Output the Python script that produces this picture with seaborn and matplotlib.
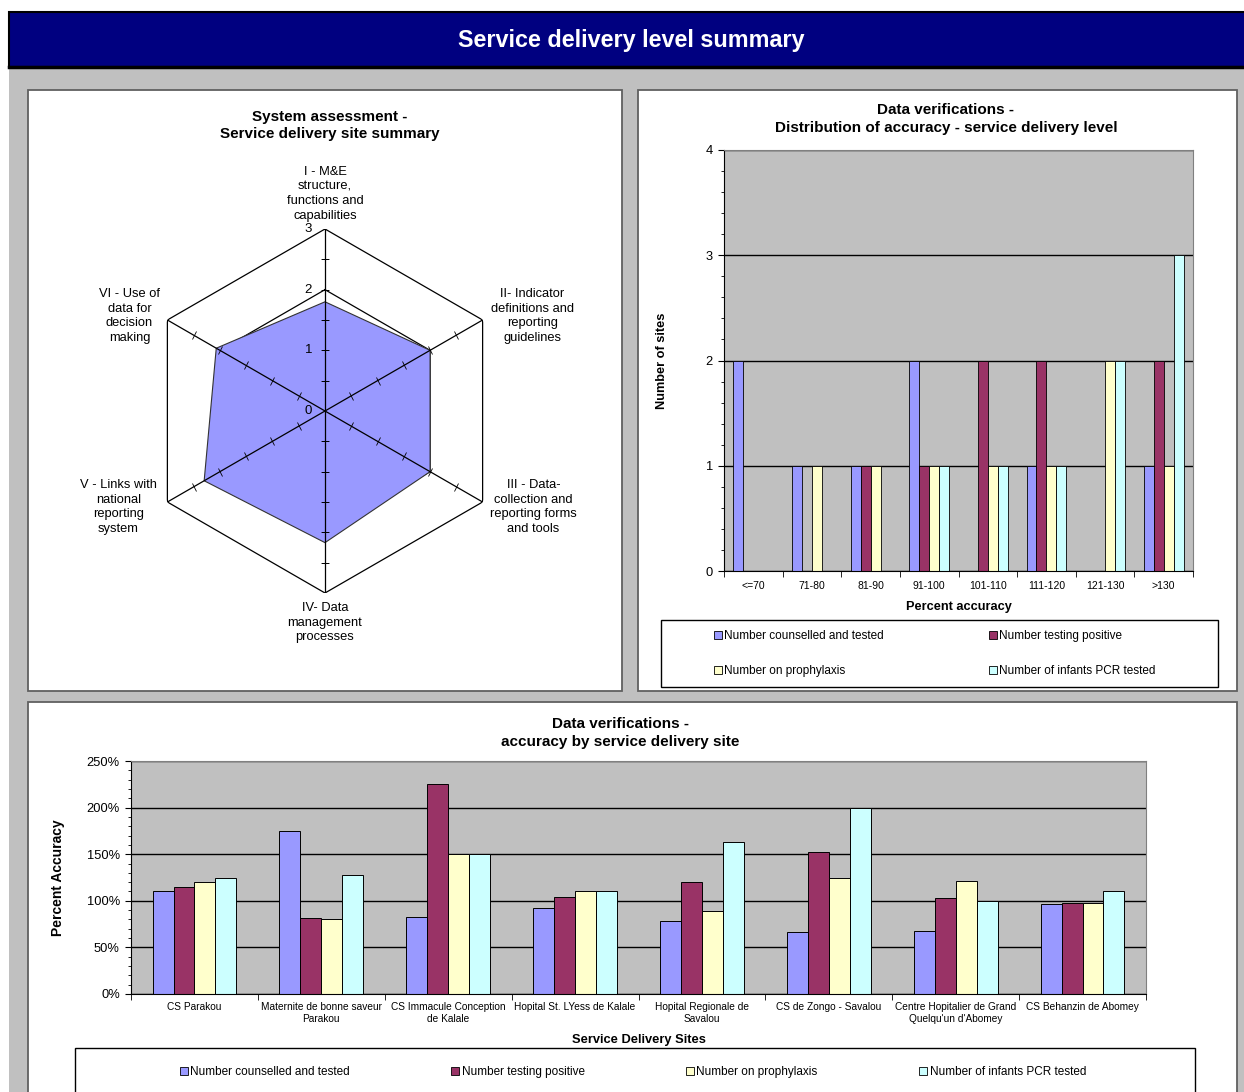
import numpy as np
import pandas as pd
import matplotlib
matplotlib.use('Agg')
import matplotlib.pyplot as plt
import matplotlib.ticker as mticker
from matplotlib.patches import Rectangle, Patch
from matplotlib.markers import MarkerStyle
from matplotlib.transforms import Affine2D
import seaborn as sns

plt.rcParams['font.family'] = ['Liberation Sans', 'DejaVu Sans']

W, H = 1244, 1092

# system assessment (radar)
components = ['I - M&E\nstructure,\nfunctions and\ncapabilities',
              'II- Indicator\ndefinitions and\nreporting\nguidelines',
              'III - Data-\ncollection and\nreporting forms\nand tools',
              'IV- Data\nmanagement\nprocesses',
              'V - Links with\nnational\nreporting\nsystem',
              'VI - Use of\ndata for\ndecision\nmaking']
scores = [1.8, 2.0, 2.0, 2.17, 2.3, 2.07]

# distribution of accuracy
bins = ['<=70', '71-80', '81-90', '91-100', '101-110', '111-120', '121-130', '>130']
series = ['Number counselled and tested', 'Number testing positive',
          'Number on prophylaxis', 'Number of infants PCR tested']
counselled_sites = [2, 1, 1, 2, 0, 1, 0, 1]
positive_sites = [0, 0, 1, 1, 2, 2, 0, 2]
prophylaxis_sites = [0, 1, 1, 1, 1, 1, 2, 1]
pcr_sites = [0, 0, 0, 1, 1, 1, 2, 3]

# accuracy by site
sites = ['CS Parakou', 'Maternite de bonne saveur\nParakou', 'CS Immacule Conception\nde Kalale',
         'Hopital St. LYess de Kalale', 'Hopital Regionale de\nSavalou', 'CS de Zongo - Savalou',
         'Centre Hopitalier de Grand\nQuelqu\'un d\'Abomey', 'CS Behanzin de Abomey']
counselled_pct = [111, 175, 83, 92, 78, 67, 68, 97]
positive_pct = [115, 82, 225, 104, 120, 152, 103, 98]
prophylaxis_pct = [120, 80, 150, 110, 89, 125, 121, 98]
pcr_pct = [125, 128, 150, 110, 163, 200, 100, 111]

colors = ['#9999FF', '#993366', '#FFFFCC', '#CCFFFF']

hist_df = pd.DataFrame({
    'range': bins * 4,
    'sites': counselled_sites + positive_sites + prophylaxis_sites + pcr_sites,
    'series': np.repeat(series, len(bins)),
})
site_df = pd.DataFrame({
    'site': sites * 4,
    'pct': counselled_pct + positive_pct + prophylaxis_pct + pcr_pct,
    'series': np.repeat(series, len(sites)),
})

fig = plt.figure(figsize=(W / 100, H / 100), dpi=100)


def box(x0, y0, x1, y1):
    return [x0 / W, 1 - y1 / H, (x1 - x0) / W, (y1 - y0) / H]


def rect(x0, y0, x1, y1, **kw):
    fig.add_artist(Rectangle((x0 / W, 1 - y1 / H), (x1 - x0) / W, (y1 - y0) / H,
                             transform=fig.transFigure, zorder=-10, **kw))


def ftext(x, y, s, **kw):
    fig.text(x / W, 1 - y / H, s, **kw)


# page background, header, panels
rect(0, 0, W, H, fc='white', ec='none')
rect(9, 67, W + 5, H + 5, fc='#C0C0C0', ec='none')
rect(9, 12, W + 5, 67, fc='#000080', ec='black', lw=1.5)
fig.add_artist(plt.Line2D([9 / W, 1], [1 - 67 / H, 1 - 67 / H], transform=fig.transFigure,
                          color='black', lw=2.5, zorder=-9))
ftext(631, 40, 'Service delivery level summary', color='white', fontsize=16.8,
      fontweight='bold', ha='center', va='center')
for x0, y0, x1, y1 in [(28, 90, 622, 691), (638, 90, 1237, 691), (28, 702, 1237, H + 5)]:
    rect(x0, y0, x1, y1, fc='white', ec='#606060', lw=1.3)

# ---- radar ----
ax1 = fig.add_axes(box(143, 229, 507, 593), projection='polar')
ax1.set_theta_zero_location('N')
ax1.set_theta_direction(-1)
ax1.set_ylim(0, 3)
ax1.axis('off')
angles = np.linspace(0, 2 * np.pi, len(components), endpoint=False)
closed = np.append(angles, angles[0])
for r in [1, 2, 3]:
    ax1.plot(closed, [r] * len(closed), color='black', lw=0.9, zorder=1)
ax1.fill(closed, scores + scores[:1], fc='#9999FF', ec='#333333', lw=0.8, zorder=2)
ticks_r = [0.5, 1, 1.5, 2, 2.5]
for k, a in enumerate(angles):
    ax1.plot([a, a], [0, 3], color='black', lw=0.9, zorder=3)
    m = MarkerStyle('_', transform=Affine2D().rotate_deg(-60 * k))
    ax1.plot([a] * len(ticks_r), ticks_r, ls='none', marker=m, ms=6, mec='black', mew=0.6, zorder=3)
for r in [0, 1, 2, 3]:
    ax1.annotate(str(r), xy=(0, r), xytext=(-13, 0), textcoords='offset pixels',
                 ha='right', va='center', fontsize=9.5, annotation_clip=False)
offsets = [((0, 7), 'center', 'bottom'), ((50, 4), 'center', 'center'), ((51, -5), 'center', 'center'),
           ((0, -9), 'center', 'top'), ((-49, -5), 'center', 'center'), ((-38, 4), 'center', 'center')]
for a, lab, (off, ha, va) in zip(angles, components, offsets):
    ax1.annotate(lab, xy=(a, 3), xytext=off, textcoords='offset pixels', ha=ha, va=va,
                 multialignment='center', fontsize=9.3, annotation_clip=False, linespacing=1.3)
ftext(330, 125.5, 'System assessment -\nService delivery site summary', fontsize=11,
      fontweight='bold', ha='center', va='center', linespacing=1.3)


def style_bars(ax):
    ax.set_facecolor('#C0C0C0')
    ax.set_axisbelow(True)
    ax.yaxis.grid(True, which='major', color='black', lw=1.0)
    for s in ['top', 'right']:
        ax.spines[s].set_color('#808080')
    for s in ['left', 'bottom']:
        ax.spines[s].set_color('black')
    ax.tick_params(axis='x', which='major', length=0)
    ax.tick_params(axis='x', which='minor', length=4, direction='out', color='black')
    ax.tick_params(axis='y', which='both', direction='out', color='black')
    ax.tick_params(axis='y', which='major', length=4)
    ax.tick_params(axis='y', which='minor', length=2.5)
    ax.xaxis.set_minor_locator(mticker.FixedLocator(np.arange(-0.5, 8, 1)))


# ---- distribution ----
ax2 = fig.add_axes(box(724, 150, 1193, 571))
sns.barplot(data=hist_df, x='range', y='sites', hue='series', order=bins, hue_order=series,
            palette=colors, saturation=1, width=0.68, edgecolor='black', linewidth=0.6,
            errorbar=None, legend=False, ax=ax2)
ax2.set_ylim(0, 4)
ax2.set_xlim(-0.5, 7.5)
ax2.yaxis.set_major_locator(mticker.MultipleLocator(1))
ax2.yaxis.set_minor_locator(mticker.MultipleLocator(0.2))
style_bars(ax2)
ax2.tick_params(axis='y', labelsize=9.3, pad=4)
ax2.tick_params(axis='x', labelsize=7.5, pad=7)
ax2.set_xlabel('Percent accuracy', fontsize=9.2, fontweight='bold')
ax2.set_ylabel('Number of sites', fontsize=9.2, fontweight='bold')
ax2.xaxis.set_label_coords(0.5, (571 - 601) / 421)
ax2.yaxis.set_label_coords((668 - 724) / 469, 0.5)
ftext(946, 119, 'Data verifications -\nDistribution of accuracy - service delivery level',
      fontsize=11, fontweight='bold', ha='center', va='center', linespacing=1.3)

handles = {s: Patch(fc=c, ec='black', lw=0.6) for s, c in zip(series, colors)}
rect(661, 620, 1218, 687, fc='white', ec='black', lw=1)
order2 = [series[0], series[2], series[1], series[3]]
fig.legend([handles[s] for s in order2], order2, ncol=2, loc='center left',
           bbox_to_anchor=(714 / W, 1 - 653.5 / H), frameon=False, fontsize=8.5,
           handlelength=0.67, handleheight=0.67, handletextpad=0.2, columnspacing=8.9,
           labelspacing=2.0, borderpad=0, borderaxespad=0)

# ---- accuracy by site ----
ax3 = fig.add_axes(box(131, 761, 1146, 994))
sns.barplot(data=site_df, x='site', y='pct', hue='series', order=sites, hue_order=series,
            palette=colors, saturation=1, width=0.66, edgecolor='black', linewidth=0.7,
            errorbar=None, legend=False, ax=ax3)
ax3.set_ylim(0, 250)
ax3.set_xlim(-0.5, 7.5)
ax3.yaxis.set_major_locator(mticker.MultipleLocator(50))
ax3.yaxis.set_minor_locator(mticker.MultipleLocator(10))
ax3.yaxis.set_major_formatter(mticker.FuncFormatter(lambda v, p: f'{v:.0f}%'))
style_bars(ax3)
ax3.tick_params(axis='y', labelsize=9.3, pad=4)
ax3.tick_params(axis='x', labelsize=7.3, pad=6)
ax3.set_xlabel('Service Delivery Sites', fontsize=9.3, fontweight='bold')
ax3.set_ylabel('Percent Accuracy', fontsize=10, fontweight='bold')
ax3.xaxis.set_label_coords(0.5, (994 - 1034) / 233)
ax3.yaxis.set_label_coords((65 - 131) / 1015, 0.5)
ftext(620, 733, 'Data verifications -\naccuracy by service delivery site',
      fontsize=11, fontweight='bold', ha='center', va='center', linespacing=1.3)

rect(75, 1048, 1195, H + 10, fc='white', ec='black', lw=1)
fig.legend([handles[s] for s in series], series, ncol=4, loc='center left',
           bbox_to_anchor=(180 / W, 1 - 1072 / H), frameon=False, fontsize=8.5,
           handlelength=0.67, handleheight=0.67, handletextpad=0.2, columnspacing=8.6,
           borderpad=0, borderaxespad=0)

fig.savefig('out.png', dpi=100)
